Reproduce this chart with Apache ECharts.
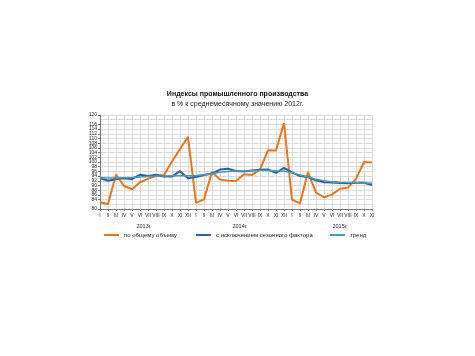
<!DOCTYPE html>
<html>
<head>
<meta charset="utf-8">
<script src="https://cdn.jsdelivr.net/npm/echarts@6/dist/echarts.min.js"></script>
<style>
html,body{margin:0;padding:0;background:#fff;}
#chart{width:475px;height:356px;}
</style>
</head>
<body>
<div id="chart"></div>
<script>
// Months: Jan 2013 – Nov 2015
const months = [
  'I','II','III','IV','V','VI','VII','VIII','IX','X','XI','XII',
  'I','II','III','IV','V','VI','VII','VIII','IX','X','XI','XII',
  'I','II','III','IV','V','VI','VII','VIII','IX','X','XI'
];
const years = ['2013г.', '2014г.', '2015г.'];
const yearLabelAt = [5.5, 17.5, 30];

const seriesNames = ['по общему объему', 'с исключением сезонного фактора', 'тренд'];

const totalVolume = [
  82.9, 82.1, 94.7, 89.8, 88.4, 91.4, 92.8, 94.1, 94.5, 100.2, 105.5, 110.7,
  82.6, 84.1, 95.8, 92.5, 92.0, 91.9, 94.8, 94.5, 96.8, 105.0, 104.9, 116.6,
  84.0, 82.4, 95.7, 87.0, 85.0, 86.1, 88.6, 89.1, 92.8, 100.0, 99.8
];
const seasonallyAdjusted = [
  93.2, 92.0, 92.8, 93.1, 92.7, 94.6, 94.0, 94.6, 93.8, 93.8, 96.1, 93.1,
  93.6, 94.5, 95.1, 96.8, 97.1, 96.2, 96.0, 96.4, 96.7, 96.8, 95.4, 97.5,
  95.6, 94.0, 93.6, 92.2, 91.4, 91.3, 91.1, 91.0, 91.2, 91.2, 90.2
];
const trend = [
  93.3, 93.2, 93.2, 93.3, 93.4, 93.6, 93.8, 94.0, 94.0, 94.1, 94.2, 94.2,
  94.3, 94.6, 95.0, 95.6, 96.0, 96.2, 96.2, 96.3, 96.4, 96.4, 96.3, 96.1,
  95.4, 94.5, 93.6, 92.7, 92.0, 91.6, 91.4, 91.3, 91.2, 91.1, 91.0
];

const FONT = '"Liberation Sans", Arial, sans-serif';
const colors = ['#E8761E', '#2F5DAA', '#4A9CAE'];

const chart = echarts.init(document.getElementById('chart'), null, {renderer: 'canvas'});

function legendAt(name, left) {
  return {
    data: [name], left: left, top: 232, padding: 0,
    icon: 'rect', itemWidth: 15, itemHeight: 2, itemGap: 4,
    textStyle: {fontFamily: FONT, fontSize: 6, color: '#222'}
  };
}

chart.setOption({
  animation: false,
  backgroundColor: '#ffffff',
  color: colors,
  title: {
    text: 'Индексы промышленного производства',
    subtext: 'в % к среднемесячному значению 2012г.',
    left: 'center', top: 91, padding: 0, itemGap: 3,
    textStyle: {fontFamily: FONT, fontSize: 7, fontWeight: 'bold', color: '#111'},
    subtextStyle: {fontFamily: FONT, fontSize: 7, color: '#222'}
  },
  legend: [
    legendAt(seriesNames[0], 104),
    legendAt(seriesNames[1], 196),
    legendAt(seriesNames[2], 330)
  ],
  grid: {left: 100, right: 103, top: 115, bottom: 147, containLabel: false},
  xAxis: [
    {
      type: 'category', data: months, boundaryGap: false,
      axisLine: {lineStyle: {color: '#777', width: 1}},
      axisTick: {show: true, interval: 0, length: 2, lineStyle: {color: '#777'}},
      axisLabel: {interval: 0, fontFamily: FONT, fontSize: 5, color: '#222', margin: 4},
      splitLine: {show: true, interval: 0, lineStyle: {color: '#d9d9d9', width: 1}}
    },
    {
      type: 'value', min: 0, max: months.length - 1, position: 'bottom', offset: 10,
      axisLine: {show: false}, axisTick: {show: false}, splitLine: {show: false},
      axisLabel: {
        customValues: yearLabelAt,
        fontFamily: FONT, fontSize: 5.5, color: '#222', margin: 4,
        formatter: function (v) {
          const k = yearLabelAt.indexOf(v);
          return k >= 0 ? years[k] : '';
        }
      }
    }
  ],
  yAxis: {
    type: 'value', min: 80, max: 120, interval: 2,
    axisLine: {show: true, lineStyle: {color: '#777', width: 1}},
    axisTick: {show: true, length: 2, lineStyle: {color: '#777'}},
    axisLabel: {fontFamily: FONT, fontSize: 5, color: '#222', margin: 3,
                showMinLabel: true, showMaxLabel: true, hideOverlap: false},
    splitLine: {show: true, lineStyle: {color: '#d9d9d9', width: 1}}
  },
  series: [
    {
      name: seriesNames[0], type: 'line', data: totalVolume, xAxisIndex: 0,
      symbol: 'none', lineStyle: {width: 2, color: colors[0]}, itemStyle: {color: colors[0]}, z: 3
    },
    {
      name: seriesNames[1], type: 'line', data: seasonallyAdjusted, xAxisIndex: 0,
      symbol: 'none', lineStyle: {width: 2, color: colors[1]}, itemStyle: {color: colors[1]}, z: 4
    },
    {
      name: seriesNames[2], type: 'line', data: trend, xAxisIndex: 0,
      symbol: 'none', lineStyle: {width: 1.5, color: colors[2]}, itemStyle: {color: colors[2]}, z: 5
    }
  ]
});
</script>
</body>
</html>
